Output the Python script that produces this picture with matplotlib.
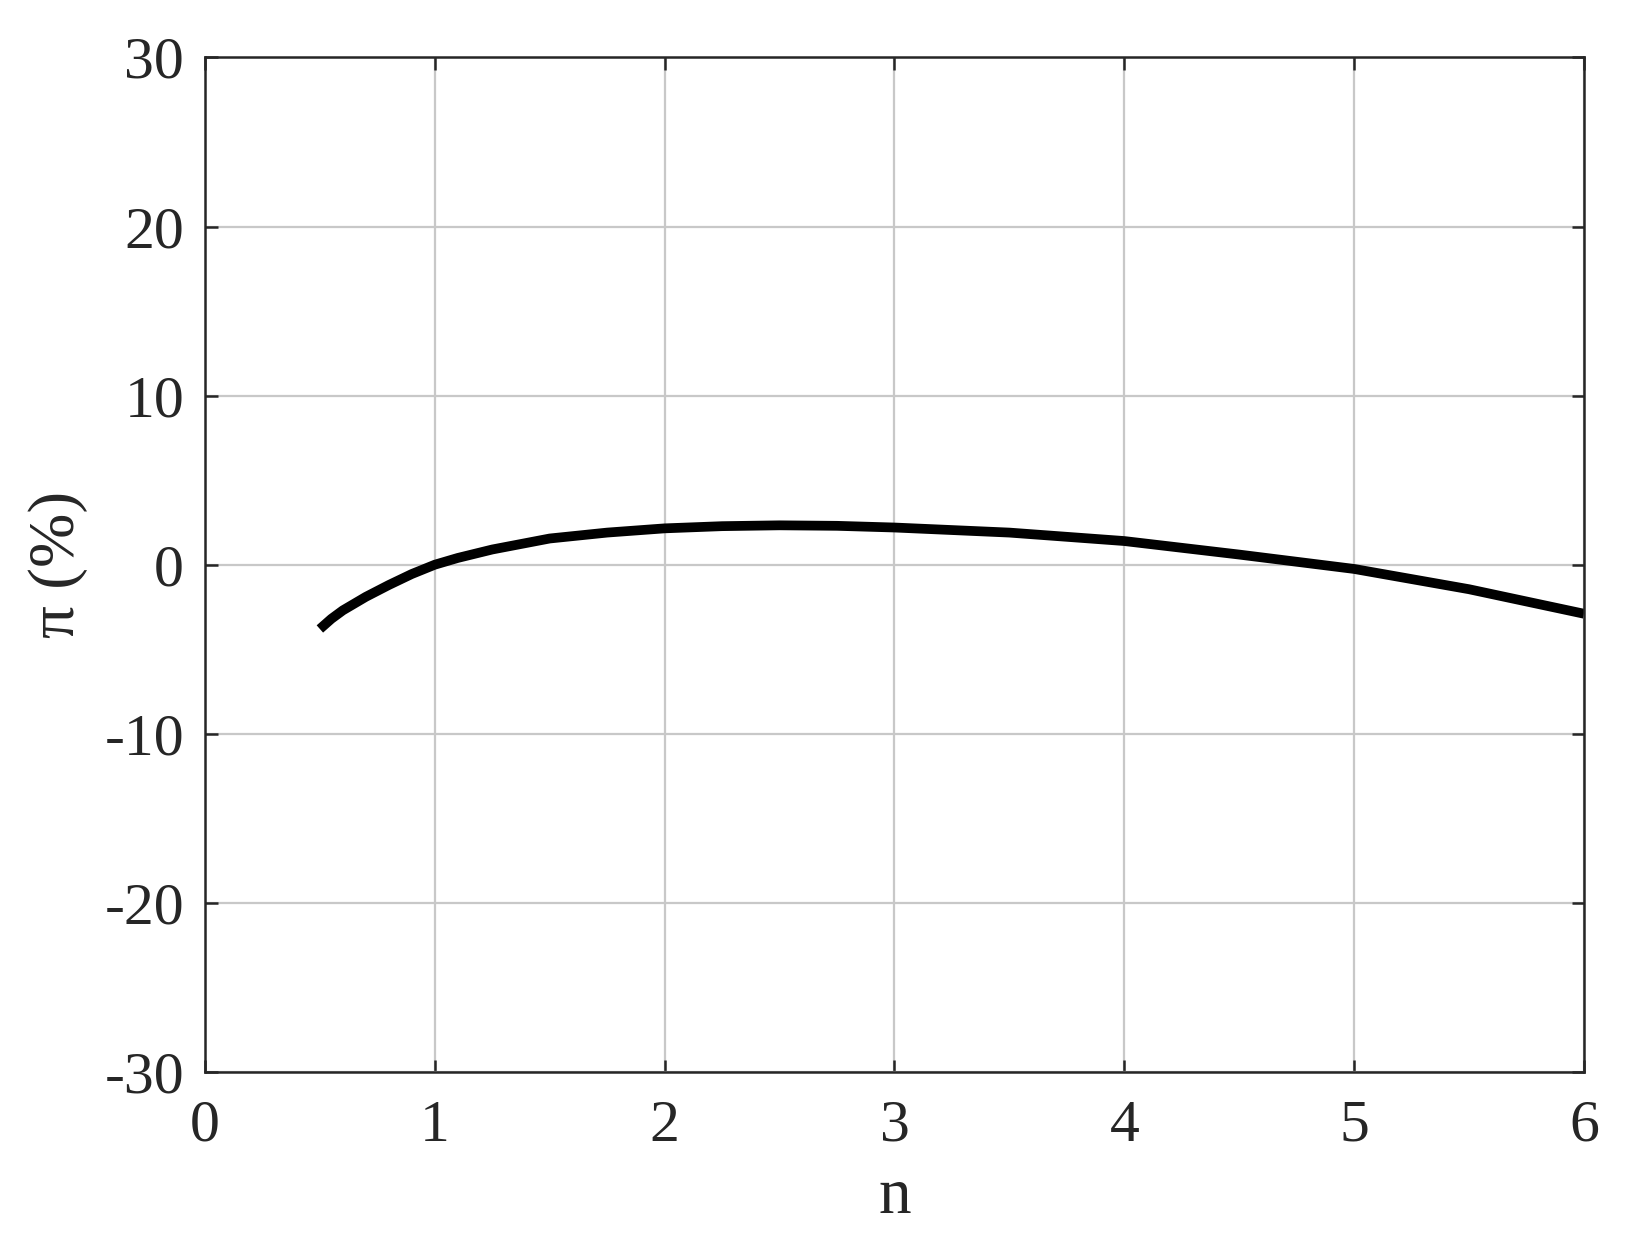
import matplotlib.pyplot as plt

# values
n = [0.5, 0.55, 0.6, 0.7, 0.8, 0.9, 1.0, 1.1, 1.25, 1.5, 1.75, 2.0, 2.25, 2.5,
     2.75, 3.0, 3.5, 4.0, 4.5, 5.0, 5.5, 6.0]
pi_pct = [-3.8, -3.2, -2.7, -1.9, -1.2, -0.55, 0.0, 0.4, 0.9, 1.55, 1.9, 2.15, 2.28, 2.33,
          2.3, 2.2, 1.9, 1.4, 0.6, -0.25, -1.45, -2.9]

x_ticks = [0, 1, 2, 3, 4, 5, 6]
y_ticks = [-30, -20, -10, 0, 10, 20, 30]

plt.rcParams['font.family'] = ['Liberation Serif', 'DejaVu Serif']

fig = plt.figure(figsize=(16.37, 12.44), dpi=100)
ax = fig.add_axes([0.1252, 0.1383, 0.8424, 0.8155])

ax.plot(n, pi_pct, color='black', linewidth=7, solid_capstyle='butt')

ax.set_xlim(0, 6)
ax.set_ylim(-30, 30)
ax.set_xticks(x_ticks)
ax.set_yticks(y_ticks)
ax.set_yticklabels([str(v) for v in y_ticks])
ax.grid(True, color='#c8c8c8', linewidth=1.6)
ax.set_axisbelow(True)

for s in ax.spines.values():
    s.set_color('#262626')
    s.set_linewidth(1.8)
ax.tick_params(direction='in', length=9, width=1.8, color='#262626',
               labelcolor='#262626', top=True, right=True, labelsize=43)
ax.tick_params(axis='x', pad=20)
ax.tick_params(axis='y', pad=15)

ax.set_xlabel('n', fontsize=47, color='#262626', labelpad=10)
ax.set_ylabel('π (%)', fontsize=47, color='#262626', labelpad=12)

fig.savefig('out.png', dpi=100)
